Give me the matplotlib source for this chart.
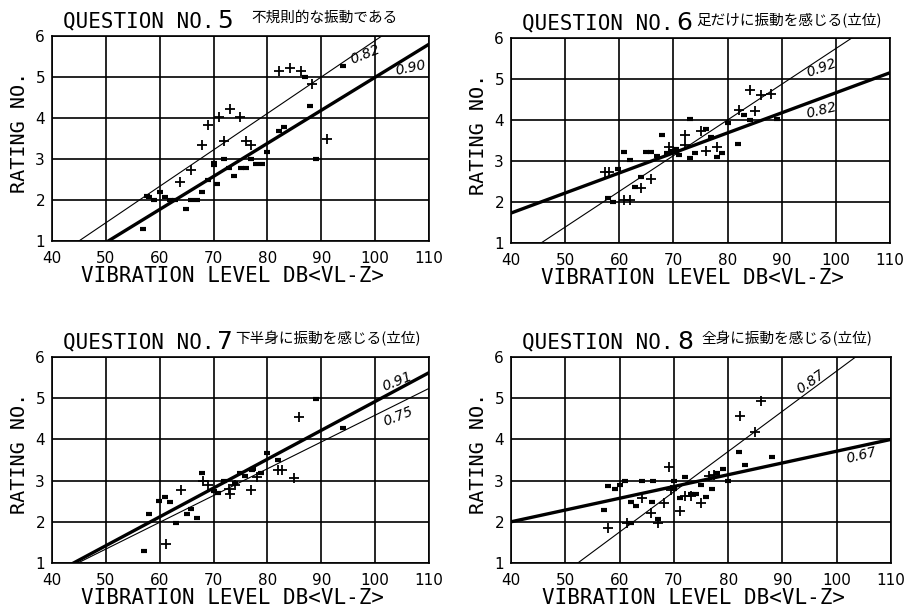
import numpy as np
import matplotlib
matplotlib.use("Agg")
import matplotlib.pyplot as plt

plt.rcParams["font.family"] = ["DejaVu Sans", "Noto Sans CJK JP"]

X_TICKS = [40, 50, 60, 70, 80, 90, 100, 110]
Y_TICKS = [1, 2, 3, 4, 5, 6]

# question 5
q5_plus_x = [82.1, 84.2, 86.2, 88.2, 73.0, 71.0, 74.9, 69.0, 67.8, 72.0, 76.0, 77.0, 65.9, 63.8, 91.0]
q5_plus_y = [5.14, 5.22, 5.14, 4.83, 4.23, 4.02, 4.02, 3.82, 3.33, 3.43, 3.43, 3.33, 2.73, 2.43, 3.49]
q5_dash_x = [94.0, 87.0, 87.9, 82.1, 83.0, 80.0, 89.0, 70.0, 70.0, 72.0, 77.0, 72.8, 75.1, 76.0, 77.9, 79.0,
             73.8, 70.7, 68.9, 67.8, 65.9, 66.9, 64.9, 60.0, 60.9, 62.0, 62.9, 58.0, 58.9, 56.9, 57.6]
q5_dash_y = [5.28, 4.99, 4.30, 3.69, 3.79, 3.18, 3.00, 2.90, 2.85, 3.00, 3.00, 2.79, 2.79, 2.79, 2.89, 2.89,
             2.59, 2.39, 2.49, 2.20, 2.00, 2.00, 1.79, 2.20, 2.08, 2.00, 2.00, 2.08, 2.00, 1.29, 2.10]

# question 6
q6_plus_x = [84.2, 86.2, 88.1, 82.2, 85.1, 72.1, 75.1, 69.1, 72.1, 76.1, 78.0, 57.3, 58.1, 60.9, 62.0, 64.0, 65.9]
q6_plus_y = [4.73, 4.61, 4.63, 4.24, 4.22, 3.63, 3.73, 3.33, 3.39, 3.24, 3.33, 2.74, 2.74, 2.04, 2.04, 2.33, 2.55]
q6_dash_x = [83.1, 84.2, 89.1, 80.0, 73.0, 76.0, 67.8, 77.0, 82.0, 60.9, 64.9, 65.9, 62.0, 66.9, 68.9, 70.0,
             74.0, 73.0, 78.0, 79.0, 59.8, 62.9, 64.0, 57.9, 58.9, 70.5, 71.0, 69.5]
q6_dash_y = [4.11, 4.00, 4.03, 3.93, 4.03, 3.77, 3.63, 3.59, 3.42, 3.22, 3.22, 3.22, 3.03, 3.11, 3.19, 3.23,
             3.19, 3.07, 3.10, 3.19, 2.80, 2.37, 2.60, 2.10, 2.00, 3.30, 3.15, 3.25]

# question 7
q7_plus_x = [61.1, 64.0, 68.1, 69.0, 73.0, 72.8, 73.9, 76.9, 78.0, 82.0, 82.7, 85.0, 85.9]
q7_plus_y = [1.47, 2.77, 2.98, 2.89, 2.67, 2.80, 2.90, 2.77, 3.08, 3.26, 3.26, 3.06, 4.55]
q7_dash_x = [57.1, 58.0, 59.9, 60.9, 61.9, 63.0, 65.0, 65.9, 67.0, 67.9, 70.9, 71.9, 75.0, 75.9, 77.2, 77.4,
             78.8, 79.9, 81.9, 89.0, 94.0, 70.0, 74.0]
q7_dash_y = [1.29, 2.19, 2.50, 2.59, 2.49, 1.98, 2.19, 2.30, 2.10, 3.18, 2.69, 3.00, 3.18, 3.11, 3.26, 3.29,
             3.19, 3.68, 3.50, 4.97, 4.27, 2.75, 2.95]

# question 8
q8_plus_x = [86.0, 82.2, 84.9, 69.1, 77.4, 76.5, 64.1, 65.8, 67.0, 68.1, 71.1, 72.0, 73.1, 75.0, 57.8, 61.4, 69.5]
q8_plus_y = [4.94, 4.58, 4.17, 3.34, 3.14, 3.10, 2.57, 2.22, 1.96, 2.45, 2.27, 2.63, 2.63, 2.45, 1.86, 1.96, 2.77]
q8_dash_x = [82.0, 83.1, 88.1, 80.0, 79.1, 77.9, 77.0, 75.9, 75.0, 72.1, 70.0, 70.0, 71.1, 66.0, 67.1, 66.2,
             64.1, 61.0, 60.1, 57.8, 59.1, 62.1, 63.1, 57.2, 62.1, 73.1, 74.0]
q8_dash_y = [3.69, 3.38, 3.57, 3.00, 3.28, 3.18, 2.79, 2.59, 2.89, 3.08, 3.00, 2.79, 2.57, 2.49, 2.07, 3.00,
             3.00, 3.00, 2.89, 2.87, 2.79, 2.49, 2.39, 2.28, 1.96, 2.67, 2.67]

# regression lines y = a + b * x  (thin, thick)
q5_thin, q5_thick = (-3.000, 0.0889), (-3.066, 0.0806)
q6_thin, q6_thick = (-2.967, 0.0871), (-0.226, 0.0489)
q7_thin, q7_thick = (-1.912, 0.0650), (-2.080, 0.0700)
q8_thin, q8_thick = (-4.110, 0.0977), (0.857, 0.02857)

# correlation labels: text, x, y, rotation
q5_labels = [("0.82", 98.1, 5.54, 22), ("0.90", 106.5, 5.22, 12)]
q6_labels = [("0.92", 97.3, 5.27, 20), ("0.82", 97.3, 4.24, 14)]
q7_labels = [("0.91", 104.0, 5.40, 22), ("0.75", 104.3, 4.55, 22)]
q8_labels = [("0.87", 95.2, 5.39, 35), ("0.67", 104.5, 3.62, 14)]

titles_num = ["5", "6", "7", "8"]
titles_jp = ["不規則的な振動である", "足だけに振動を感じる(立位)",
             "下半身に振動を感じる(立位)", "全身に振動を感じる(立位)"]

MONO = "DejaVu Sans Mono"
JP = ["Noto Sans CJK JP", "DejaVu Sans"]

fig = plt.figure(figsize=(9.06, 6.08), dpi=100)
rects = [
    (52 / 906, 1 - 241 / 608, 377 / 906, 205 / 608),
    (511 / 906, 1 - 243 / 608, 379 / 906, 205 / 608),
    (52 / 906, 1 - 563 / 608, 377 / 906, 206 / 608),
    (511 / 906, 1 - 563 / 608, 380 / 906, 206 / 608),
]
panels = [
    (q5_plus_x, q5_plus_y, q5_dash_x, q5_dash_y, q5_thin, q5_thick, q5_labels),
    (q6_plus_x, q6_plus_y, q6_dash_x, q6_dash_y, q6_thin, q6_thick, q6_labels),
    (q7_plus_x, q7_plus_y, q7_dash_x, q7_dash_y, q7_thin, q7_thick, q7_labels),
    (q8_plus_x, q8_plus_y, q8_dash_x, q8_dash_y, q8_thin, q8_thick, q8_labels),
]
title_num_x = [0.437, 0.437, 0.437, 0.438]
title_jp_x = [0.53, 0.49, 0.485, 0.50]

xs = np.linspace(40, 110, 200)
for i, (rect, panel) in enumerate(zip(rects, panels)):
    px, py, dx, dy, thin, thick, labels = panel
    ax = fig.add_axes(rect)
    ax.set_xlim(40, 110)
    ax.set_ylim(1, 6)
    ax.set_xticks(X_TICKS)
    ax.set_yticks(Y_TICKS)
    ax.tick_params(length=0, labelsize=11)
    ax.tick_params(axis="x", pad=7)
    ax.tick_params(axis="y", pad=5)
    ax.grid(True, color="black", linewidth=1.2)
    ax.set_axisbelow(True)
    for sp in ax.spines.values():
        sp.set_linewidth(1.2)

    ax.plot(xs, thin[0] + thin[1] * xs, color="black", linewidth=0.8, zorder=3)
    ax.plot(xs, thick[0] + thick[1] * xs, color="black", linewidth=2.4, zorder=3)
    ax.plot(px, py, linestyle="none", marker="+", markersize=6.5, markeredgewidth=1.3,
            color="black", zorder=4)
    ax.plot(dx, dy, linestyle="none", marker="_", markersize=5, markeredgewidth=3,
            color="black", zorder=4)
    for txt, lx, ly, rot in labels:
        ax.text(lx, ly, txt, fontsize=10, style="italic", rotation=rot,
                ha="center", va="center", zorder=5)

    ax.text(0.03, 1.07, "QUESTION NO.", transform=ax.transAxes, family=MONO,
            fontsize=15, ha="left", va="center")
    ax.text(title_num_x[i], 1.075, titles_num[i], transform=ax.transAxes,
            fontsize=18, ha="left", va="center")
    ax.text(title_jp_x[i], 1.09, titles_jp[i], transform=ax.transAxes,
            family=JP, fontsize=10.5, ha="left", va="center")
    ax.text(0.48, -0.17, "VIBRATION LEVEL DB<VL-Z>", transform=ax.transAxes,
            family=MONO, fontsize=15, ha="center", va="center")
    ax.text(-0.085, 0.53, "RATING NO.", transform=ax.transAxes, family=MONO,
            fontsize=14.5, rotation=90, ha="center", va="center")

fig.savefig("out.png", dpi=100)
